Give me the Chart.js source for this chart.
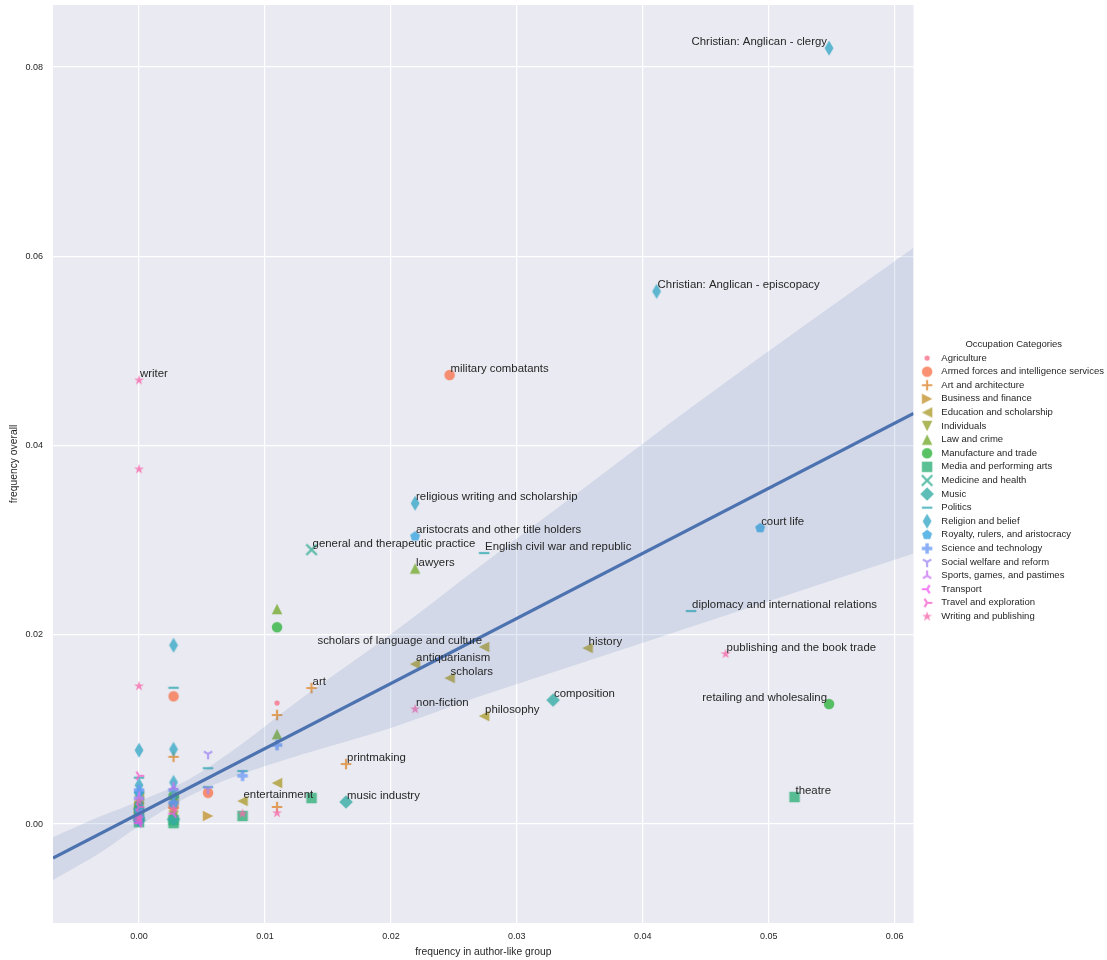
<!DOCTYPE html>
<html>
<head>
<meta charset="utf-8">
<title>Occupation categories: frequency overall vs author-like group</title>
<script src="https://cdn.jsdelivr.net/npm/chart.js@4.4.1/dist/chart.umd.min.js"></script>
<style>
  html, body { margin: 0; padding: 0; background: #ffffff; }
  #wrap { position: relative; width: 1107px; height: 960px; }
</style>
</head>
<body>
<div id="wrap"><canvas id="chart"></canvas></div>
<script>
// ---- data ---------------------------------------------------------------
const categories = [
  'Agriculture',
  'Armed forces and intelligence services',
  'Art and architecture',
  'Business and finance',
  'Education and scholarship',
  'Individuals',
  'Law and crime',
  'Manufacture and trade',
  'Media and performing arts',
  'Medicine and health',
  'Music',
  'Politics',
  'Religion and belief',
  'Royalty, rulers, and aristocracy',
  'Science and technology',
  'Social welfare and reform',
  'Sports, games, and pastimes',
  'Transport',
  'Travel and exploration',
  'Writing and publishing'
];

// [frequency in author-like group, frequency overall, optional sub-category name]
const agriculture = [[0.01096, 0.0128], [0.00274, 0.0006], [0, 0.0009]];
const armedForces = [[0.02466, 0.04745, 'military combatants'], [0.00274, 0.0135], [0.00548, 0.0033], [0.00274, 0.0019], [0, 0.0012]];
const artArchitecture = [[0.0137, 0.01437, 'art'], [0.01644, 0.00634, 'printmaking'], [0.01096, 0.01152], [0.01096, 0.0018], [0.00274, 0.0071], [0.00274, 0.0017], [0, 0.0022]];
const businessFinance = [[0.00548, 0.00085], [0, 0.0015]];
const education = [[0.0274, 0.01871, 'scholars of language and culture'], [0.03562, 0.0186, 'history'], [0.02192, 0.0169, 'antiquarianism'], [0.02466, 0.01543, 'scholars'], [0.0274, 0.01141, 'philosophy'], [0.00822, 0.00243, 'entertainment'], [0.01096, 0.00433], [0.00274, 0.0026], [0, 0.0030]];
const individuals = [[0, 0.0019], [0.00274, 0.0009]];
const lawCrime = [[0.02192, 0.0270, 'lawyers'], [0.01096, 0.02272], [0.01096, 0.0095], [0.00274, 0.0013], [0, 0.0026]];
const manufactureTrade = [[0.05479, 0.01268, 'retailing and wholesaling'], [0.01096, 0.0208], [0.00274, 0.0030], [0, 0.0017], [0, 0.0007]];
const mediaArts = [[0.05205, 0.00285, 'theatre'], [0.0137, 0.00275], [0.00822, 0.00085], [0.00274, 0.0004], [0.00274, 0.0001], [0, 0.0002], [0, 0.0010]];
const medicine = [[0.0137, 0.0290, 'general and therapeutic practice'], [0, 0.0011]];
const music = [[0.03288, 0.0131, 'composition'], [0.01644, 0.00233, 'music industry'], [0.00274, 0.0005], [0, 0.0004]];
const politics = [[0.0274, 0.02864, 'English civil war and republic'], [0.04384, 0.02251, 'diplomacy and international relations'], [0.00274, 0.0144], [0.00822, 0.0056], [0.00548, 0.0059], [0.00548, 0.0039], [0.00274, 0.0028], [0, 0.0049], [0, 0.0033]];
const religion = [[0.05479, 0.0820, 'Christian: Anglican - clergy'], [0.0411, 0.0563, 'Christian: Anglican - episcopacy'], [0.02192, 0.0339, 'religious writing and scholarship'], [0.00274, 0.0189], [0.00274, 0.0079], [0.00274, 0.0044], [0, 0.0078], [0, 0.0041], [0, 0.0021], [0, 0.0005]];
const royalty = [[0.02192, 0.0304, 'aristocrats and other title holders'], [0.04932, 0.03128, 'court life'], [0.00274, 0.0021], [0, 0.0033], [0, 0.0014]];
const science = [[0.01096, 0.00835], [0.00822, 0.0051], [0.00274, 0.0036], [0.00274, 0.0023], [0, 0.0036], [0, 0.0027], [0, 0.0008]];
const socialWelfare = [[0.00548, 0.0074], [0.00548, 0.0037], [0, 0.0013]];
const sports = [[0.00274, 0.0039], [0, 0.0029], [0, 0.0003]];
const transport = [[0.00274, 0.0011], [0, 0.0004], [0, 0.0001], [0, 0.0007]];
const travel = [[0, 0.0051], [0, 0.0018]];
const writing = [[0, 0.0469, 'writer'], [0, 0.0375], [0, 0.01458], [0.02192, 0.01215, 'non-fiction'], [0.04658, 0.01797, 'publishing and the book trade'], [0.01096, 0.00116], [0.00822, 0.0011], [0.00274, 0.0016], [0, 0.0006], [0, 0.0024]];

const seriesPoints = [agriculture, armedForces, artArchitecture, businessFinance, education, individuals,
  lawCrime, manufactureTrade, mediaArts, medicine, music, politics, religion, royalty, science,
  socialWelfare, sports, transport, travel, writing];

// marker per category (matplotlib marker codes)
const markerCodes = ['.', 'o', '+', '>', '<', 'v', '^', 'o', 's', 'x', 'D', '_', 'd', 'p', 'P', '1', '2', '3', '4', '*'];

// names whose text sits to the left of the point
const leftSideNames = ['Christian: Anglican - clergy', 'scholars of language and culture', 'retailing and wholesaling'];

const xTicks = [0.00, 0.01, 0.02, 0.03, 0.04, 0.05, 0.06];
const yTicks = [0.00, 0.02, 0.04, 0.06, 0.08];

// regression fit and its confidence band
const fitX = [-0.00683, 0.0615];
const fitY = [-0.00359, 0.0434];
const bandX = [-0.00683, -0.003, 0.0, 0.004, 0.008, 0.0128, 0.02, 0.027, 0.035, 0.045, 0.0615];
const bandLow = [-0.00592, -0.00296, -0.0002, 0.00295, 0.0052, 0.0073, 0.01015, 0.01347, 0.01697, 0.02135, 0.0286];
const bandHigh = [-0.00139, 0.00084, 0.0024, 0.00475, 0.0083, 0.0132, 0.02005, 0.02717, 0.03517, 0.04515, 0.0609];

// ---- palette (HUSL, as seaborn's husl_palette) ---------------------------
function huslToRgb(H, S, L) {
  const M = [[3.240969941904521, -1.537383177570093, -0.498610760293],
             [-0.96924363628087, 1.87596750150772, 0.041555057407175],
             [0.055630079696993, -0.20397695888897, 1.056971514242878]];
  const kappa = 903.2962962962963, eps = 0.0088564516790356;
  const refU = 0.19783000664283681, refV = 0.468319994938791;
  const sub1 = Math.pow(L + 16, 3) / 1560896;
  const sub2 = sub1 > eps ? sub1 : L / kappa;
  const hr = H / 180 * Math.PI;
  let maxC = Infinity;
  for (const [m1, m2, m3] of M) {
    for (const t of [0, 1]) {
      const top1 = (284517 * m1 - 94839 * m3) * sub2;
      const top2 = (838422 * m3 + 769860 * m2 + 731718 * m1) * L * sub2 - 769860 * t * L;
      const bottom = (632260 * m3 - 126452 * m2) * sub2 + 126452 * t;
      const len = (top2 / bottom) / (Math.sin(hr) - (top1 / bottom) * Math.cos(hr));
      if (len >= 0) maxC = Math.min(maxC, len);
    }
  }
  const C = maxC / 100 * S;
  const U = C * Math.cos(hr), V = C * Math.sin(hr);
  const Y = L <= 8 ? L / kappa : Math.pow((L + 16) / 116, 3);
  const vU = U / (13 * L) + refU, vV = V / (13 * L) + refV;
  const X = 0 - (9 * Y * vU) / ((vU - 4) * vV - vU * vV);
  const Z = (9 * Y - 15 * vV * Y - vV * X) / (3 * vV);
  return M.map(([a, b, c]) => {
    let v = a * X + b * Y + c * Z;
    v = v <= 0.0031308 ? 12.92 * v : 1.055 * Math.pow(v, 1 / 2.4) - 0.055;
    return Math.round(Math.min(1, Math.max(0, v)) * 255);
  });
}
const palette = categories.map((_, i) => {
  const h = ((i / categories.length + 0.01) % 1) * 359;
  const [r, g, b] = huslToRgb(h, 0.9 * 99, 0.65 * 99);
  return `rgb(${r},${g},${b})`;
});

// ---- marker glyphs --------------------------------------------------------
function markerCanvas(code, color) {
  const S = 10.5, r = S / 2, dim = 24;
  const c = document.createElement('canvas');
  c.width = dim; c.height = dim;
  const g = c.getContext('2d');
  g.translate(dim / 2, dim / 2);
  g.globalAlpha = 0.8;
  g.fillStyle = color;
  g.strokeStyle = color;
  g.lineWidth = 2.2;
  const poly = pts => {
    g.beginPath();
    pts.forEach(([x, y], i) => (i ? g.lineTo(x, y) : g.moveTo(x, y)));
    g.closePath();
    g.fill();
  };
  const strokes = segs => {
    g.beginPath();
    segs.forEach(([x1, y1, x2, y2]) => { g.moveTo(x1, y1); g.lineTo(x2, y2); });
    g.stroke();
  };
  switch (code) {
    case '.': g.beginPath(); g.arc(0, 0, r * 0.5, 0, 2 * Math.PI); g.fill(); break;
    case 'o': g.beginPath(); g.arc(0, 0, r, 0, 2 * Math.PI); g.fill(); break;
    case '+': strokes([[-r, 0, r, 0], [0, -r, 0, r]]); break;
    case 'x': strokes([[-r, -r, r, r], [-r, r, r, -r]]); break;
    case '_': strokes([[-r, 0, r, 0]]); break;
    case '^': poly([[0, -r], [-r, r], [r, r]]); break;
    case 'v': poly([[0, r], [-r, -r], [r, -r]]); break;
    case '<': poly([[-r, 0], [r, -r], [r, r]]); break;
    case '>': poly([[r, 0], [-r, -r], [-r, r]]); break;
    case 's': g.fillRect(-r, -r, S, S); break;
    case 'D': { const d = r * 1.3; poly([[0, -d], [d, 0], [0, d], [-d, 0]]); break; }
    case 'd': { const h = r * 1.41, w = r * 0.85; poly([[0, -h], [w, 0], [0, h], [-w, 0]]); break; }
    case 'p': {
      const pts = [];
      for (let k = 0; k < 5; k++) {
        const a = -Math.PI / 2 + k * 2 * Math.PI / 5;
        pts.push([r * Math.cos(a), r * Math.sin(a)]);
      }
      poly(pts); break;
    }
    case 'P': {
      const t = S / 6;
      poly([[-t, -r], [t, -r], [t, -t], [r, -t], [r, t], [t, t], [t, r], [-t, r], [-t, t], [-r, t], [-r, -t], [-t, -t]]);
      break;
    }
    case '*': {
      const pts = [];
      for (let k = 0; k < 10; k++) {
        const a = -Math.PI / 2 + k * Math.PI / 5;
        const rad = k % 2 ? r * 0.382 : r;
        pts.push([rad * Math.cos(a), rad * Math.sin(a)]);
      }
      poly(pts); break;
    }
    case '1': strokes([[0, 0, 0, r], [0, 0, 0.8 * r, -0.5 * r], [0, 0, -0.8 * r, -0.5 * r]]); break;
    case '2': strokes([[0, 0, 0, -r], [0, 0, 0.8 * r, 0.5 * r], [0, 0, -0.8 * r, 0.5 * r]]); break;
    case '3': strokes([[0, 0, -r, 0], [0, 0, 0.5 * r, 0.8 * r], [0, 0, 0.5 * r, -0.8 * r]]); break;
    case '4': strokes([[0, 0, r, 0], [0, 0, -0.5 * r, 0.8 * r], [0, 0, -0.5 * r, -0.8 * r]]); break;
  }
  return c;
}

// ---- plugins --------------------------------------------------------------
const plotBackground = {
  id: 'plotBackground',
  beforeDraw(chart) {
    const { ctx, chartArea: a } = chart;
    ctx.save();
    ctx.fillStyle = '#eaeaf2';
    ctx.fillRect(a.left, a.top, a.right - a.left, a.bottom - a.top);
    ctx.restore();
  }
};

const pointNames = {
  id: 'pointNames',
  afterDatasetsDraw(chart) {
    const { ctx } = chart;
    const xs = chart.scales.x, ys = chart.scales.y;
    ctx.save();
    ctx.font = '11.4px "Liberation Sans", Arial, sans-serif';
    ctx.fillStyle = '#262626';
    ctx.textBaseline = 'alphabetic';
    seriesPoints.forEach(pts => pts.forEach(p => {
      if (!p[2]) return;
      const px = xs.getPixelForValue(p[0]);
      const py = ys.getPixelForValue(p[1]);
      const leftSide = leftSideNames.includes(p[2]);
      ctx.textAlign = leftSide ? 'right' : 'left';
      ctx.fillText(p[2], px + (leftSide ? -2 : 1), py - 3);
    }));
    ctx.restore();
  }
};

// keep the plot frame exactly where the axes are fitted
function fixScalePadding(s) {
  s.paddingTop = 0;
  s.paddingBottom = 0;
  s.paddingLeft = 0;
  s.paddingRight = 0;
}

// ---- chart ----------------------------------------------------------------
const FONT = '"Liberation Sans", Arial, Helvetica, sans-serif';
Chart.defaults.font.family = FONT;
Chart.defaults.color = '#262626';

const datasets = [
  {
    type: 'line', label: 'fit',
    data: fitX.map((x, i) => ({ x, y: fitY[i] })),
    borderColor: '#4c72b0', borderWidth: 3.2, pointRadius: 0, fill: false, order: 0
  },
  {
    type: 'line', label: 'band-low',
    data: bandX.map((x, i) => ({ x, y: bandLow[i] })),
    borderColor: 'rgba(0,0,0,0)', borderWidth: 0, pointRadius: 0, fill: false,
    cubicInterpolationMode: 'monotone', order: 1
  },
  {
    type: 'line', label: 'band-high',
    data: bandX.map((x, i) => ({ x, y: bandHigh[i] })),
    borderColor: 'rgba(0,0,0,0)', borderWidth: 0, pointRadius: 0,
    cubicInterpolationMode: 'monotone',
    fill: '-1', backgroundColor: 'rgba(76,114,176,0.15)', order: 1
  },
  ...categories.map((name, i) => ({
    type: 'scatter',
    label: name,
    data: seriesPoints[i].map(p => ({ x: p[0], y: p[1] })),
    pointStyle: markerCanvas(markerCodes[i], palette[i]),
    pointRadius: 5, pointHoverRadius: 5, pointBorderWidth: 0,
    backgroundColor: palette[i], borderColor: palette[i],
    order: 100 - i
  }))
];

new Chart(document.getElementById('chart'), {
  type: 'scatter',
  data: { datasets },
  plugins: [plotBackground, pointNames],
  options: {
    responsive: true,
    maintainAspectRatio: false,
    animation: false,
    events: [],
    layout: { padding: { top: 5, left: 0, bottom: 0, right: -7 } },
    plugins: {
      tooltip: { enabled: false },
      legend: {
        position: 'right',
        align: 'center',
        title: {
          display: true,
          text: 'Occupation Categories',
          color: '#262626',
          font: { family: FONT, size: 9.5, lineHeight: 1 },
          padding: 0
        },
        labels: {
          usePointStyle: true,
          pointStyleWidth: 19,
          padding: 4.1,
          color: '#262626',
          font: { family: FONT, size: 9.5 },
          filter: item => categories.includes(item.text),
          sort: (a, b) => a.datasetIndex - b.datasetIndex
        }
      }
    },
    scales: {
      x: {
        type: 'linear',
        min: -0.00683,
        max: 0.0615,
        afterBuildTicks: s => { s.ticks = xTicks.map(v => ({ value: v })); },
        afterFit: s => { s.height = 37; fixScalePadding(s); },
        ticks: {
          callback: v => Number(v).toFixed(2),
          font: { family: FONT, size: 9 },
          color: '#262626',
          padding: 8,
          maxRotation: 0,
          autoSkip: false
        },
        grid: { color: '#ffffff', lineWidth: 1.25, drawTicks: false },
        border: { display: false },
        title: {
          display: true,
          text: 'frequency in author-like group',
          color: '#262626',
          font: { family: FONT, size: 10.3 },
          padding: { top: 0, bottom: 2 }
        }
      },
      y: {
        type: 'linear',
        min: -0.01046,
        max: 0.08656,
        afterBuildTicks: s => { s.ticks = yTicks.map(v => ({ value: v })); },
        afterFit: s => { s.width = 53; fixScalePadding(s); },
        ticks: {
          callback: v => Number(v).toFixed(2),
          font: { family: FONT, size: 9 },
          color: '#262626',
          padding: 10,
          autoSkip: false
        },
        grid: { color: '#ffffff', lineWidth: 1.25, drawTicks: false },
        border: { display: false },
        title: {
          display: true,
          text: 'frequency overall',
          color: '#262626',
          font: { family: FONT, size: 10.3 },
          padding: { top: 8, bottom: 0 }
        }
      }
    }
  }
});
</script>
</body>
</html>
